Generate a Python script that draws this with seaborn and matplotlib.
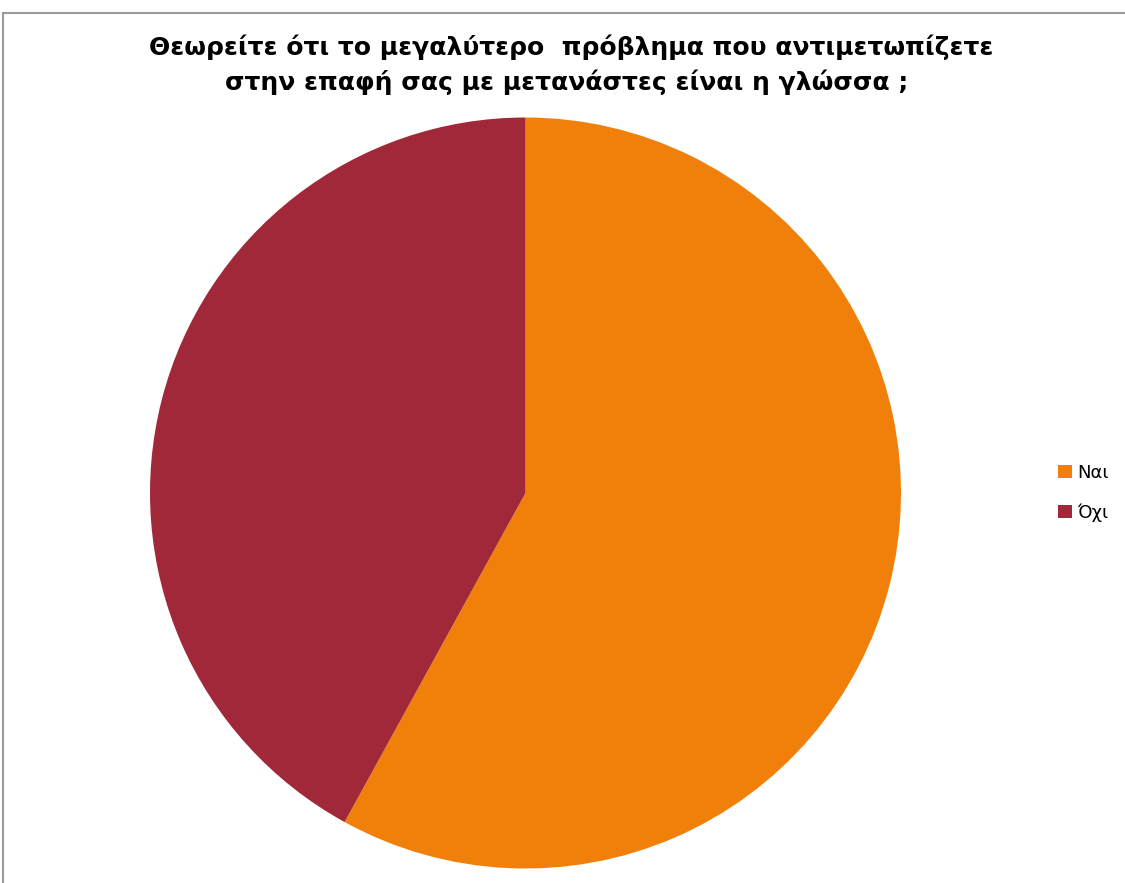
import matplotlib
matplotlib.use("Agg")
import matplotlib.pyplot as plt
import seaborn as sns
from matplotlib.patches import Rectangle, Patch

sns.set_theme(style="white")
plt.rcParams['font.family'] = ['DejaVu Sans']
plt.rcParams['text.color'] = 'black'

labels = ["Ναι", "Όχι"]
values = [58, 42]
colors = ["#F0800A", "#A12838"]

W, H = 1125, 883
fig = plt.figure(figsize=(W / 100, H / 100), dpi=100)
fig.patch.set_facecolor("white")

# chart frame (gray outline, extending past right/bottom edges)
fig.patches.append(Rectangle((3 / W, -0.05), 1.2, (H - 13) / H + 0.05,
                             transform=fig.transFigure, fill=False,
                             edgecolor="#9a9a9a", linewidth=1.5))

cx, cy, r = 525.5, 493, 375.5
ax = fig.add_axes([(cx - r) / W, (H - cy - r) / H, 2 * r / W, 2 * r / H])
ax.pie(values, colors=colors, startangle=90, counterclock=False, radius=1,
       wedgeprops=dict(linewidth=0))
ax.set_xlim(-1, 1)
ax.set_ylim(-1, 1)
ax.set_aspect("equal")
ax.axis("off")

fig.text(571 / W, 1 - 47 / H,
         "Θεωρείτε ότι το μεγαλύτερο  πρόβλημα που αντιμετωπίζετε",
         ha="center", va="center", fontsize=18, fontweight="bold",
         color="black")
fig.text(567 / W, 1 - 82 / H,
         "στην επαφή σας με μετανάστες είναι η γλώσσα ;",
         ha="center", va="center", fontsize=18, fontweight="bold",
         color="black")

handles = [Patch(facecolor=c, edgecolor="none") for c in colors]
leg = fig.legend(handles, labels, loc="center left",
                 bbox_to_anchor=(1051 / W, 1 - 493 / H), frameon=False,
                 fontsize=13, handlelength=0.75, handleheight=0.75,
                 handletextpad=0.3, labelspacing=1.2, borderaxespad=0)
for t in leg.get_texts():
    t.set_color("black")

fig.savefig("out.png", dpi=100)
